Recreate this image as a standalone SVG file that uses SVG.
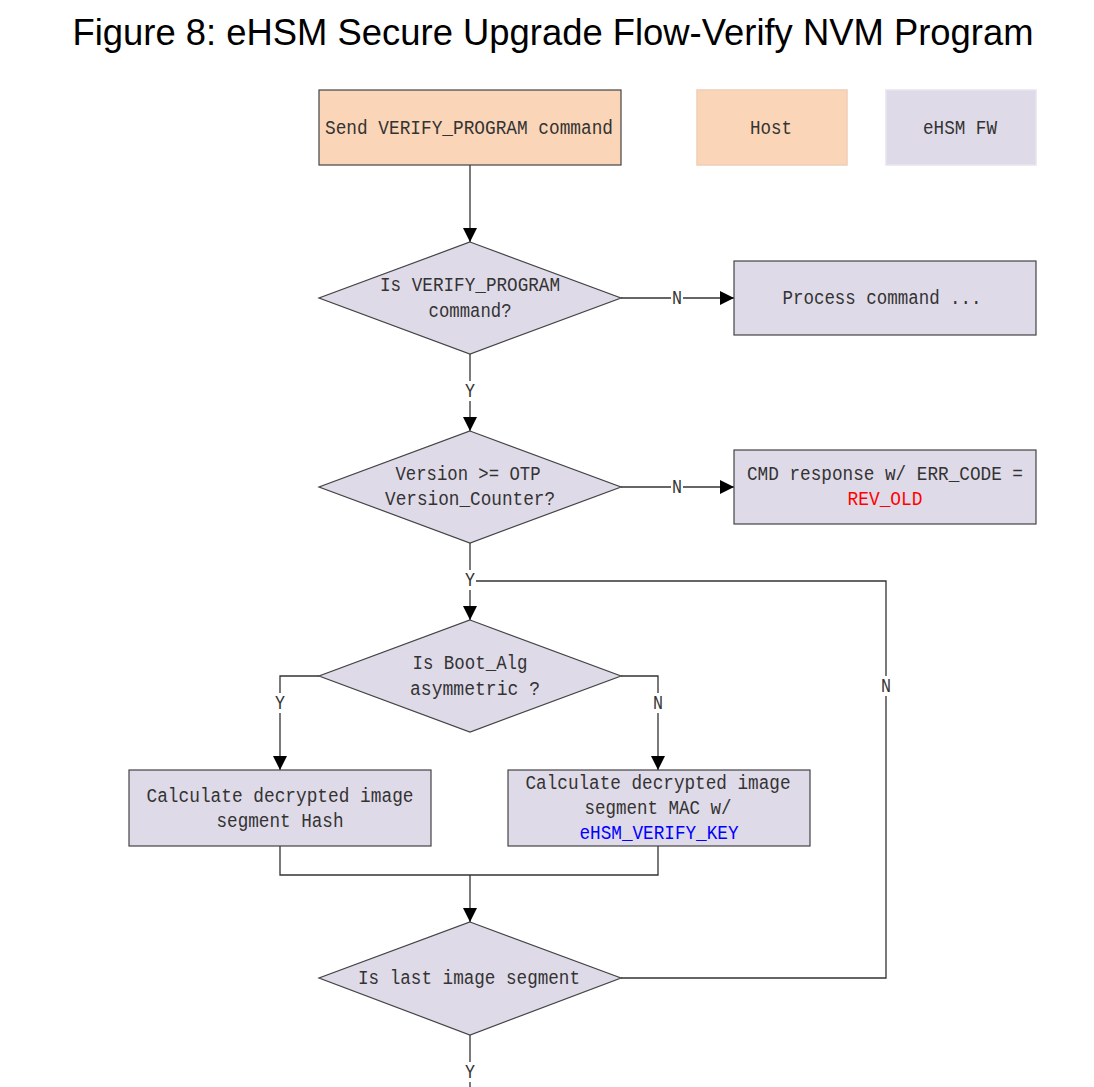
<svg xmlns="http://www.w3.org/2000/svg" width="1094" height="1087" viewBox="0 0 1094 1087">
<defs>
<style>
.title{font-family:"Liberation Sans",Arial,sans-serif;font-size:36px;fill:#000}
.t{font-family:"Liberation Mono","DejaVu Sans Mono",monospace;font-size:20px;fill:#333;text-anchor:middle;dominant-baseline:central}
.host{fill:#FBD5B7;stroke:#444;stroke-width:1.2}
.fw{fill:#DFDAE8;stroke:#444;stroke-width:1.2}
.legh{fill:#FBD5B7;stroke:#F0CDB8;stroke-width:1.5}
.legf{fill:#DFDAE8;stroke:#E8E4EE;stroke-width:1.5}
.c{fill:none;stroke:#333;stroke-width:1.3}
.lbl{fill:#fff}
</style>
<marker id="ah" viewBox="0 0 10 10" refX="10" refY="5" markerWidth="14" markerHeight="14" markerUnits="userSpaceOnUse" orient="auto">
<path d="M0,0 L10,5 L0,10 z" fill="#000"/>
</marker>
</defs>
<rect width="1094" height="1087" fill="#fff"/>
<text class="title" x="553" y="45" text-anchor="middle" textLength="961" lengthAdjust="spacingAndGlyphs">Figure 8: eHSM Secure Upgrade Flow-Verify NVM Program</text>

<g id="connectors">
<line class="c" x1="470" y1="165" x2="470" y2="242" marker-end="url(#ah)"/>
<line class="c" x1="621" y1="298" x2="734" y2="298" marker-end="url(#ah)"/>
<line class="c" x1="470" y1="354" x2="470" y2="431" marker-end="url(#ah)"/>
<line class="c" x1="621" y1="487" x2="734" y2="487" marker-end="url(#ah)"/>
<line class="c" x1="470" y1="543" x2="470" y2="620" marker-end="url(#ah)"/>
<polyline class="c" points="319,676 280,676 280,770" marker-end="url(#ah)"/>
<polyline class="c" points="621,676 658,676 658,770" marker-end="url(#ah)"/>
<polyline class="c" points="280,846 280,875 658,875 658,846"/>
<line class="c" x1="470" y1="875" x2="470" y2="922" marker-end="url(#ah)"/>
<polyline class="c" points="621,978 886,978 886,581 470,581"/>
<line class="c" x1="470" y1="1035" x2="470" y2="1087"/>
<g id="labels">
<rect class="lbl" x="671" y="288" width="12" height="20"/><text class="t" x="677" y="298" textLength="10" lengthAdjust="spacingAndGlyphs">N</text>
<rect class="lbl" x="671" y="477" width="12" height="20"/><text class="t" x="677" y="487" textLength="10" lengthAdjust="spacingAndGlyphs">N</text>
<rect class="lbl" x="464" y="381" width="12" height="20"/><text class="t" x="470" y="391" textLength="10" lengthAdjust="spacingAndGlyphs">Y</text>
<rect class="lbl" x="464" y="570" width="12" height="20"/><text class="t" x="470" y="580" textLength="10" lengthAdjust="spacingAndGlyphs">Y</text>
<rect class="lbl" x="274" y="693" width="12" height="20"/><text class="t" x="280" y="703" textLength="10" lengthAdjust="spacingAndGlyphs">Y</text>
<rect class="lbl" x="652" y="693" width="12" height="20"/><text class="t" x="658" y="703" textLength="10" lengthAdjust="spacingAndGlyphs">N</text>
<rect class="lbl" x="880" y="676" width="12" height="20"/><text class="t" x="886" y="686" textLength="10" lengthAdjust="spacingAndGlyphs">N</text>
<rect class="lbl" x="464" y="1062" width="12" height="20"/><text class="t" x="470" y="1072" textLength="10" lengthAdjust="spacingAndGlyphs">Y</text>
</g>
</g>

<g id="send_cmd">
<rect class="host" x="319" y="90" width="302" height="75"/>
<text class="t" x="469" y="128" textLength="288" lengthAdjust="spacingAndGlyphs">Send VERIFY_PROGRAM command</text>
</g>
<g id="legend_host">
<rect class="legh" x="697" y="90" width="150" height="75"/>
<text class="t" x="771" y="128" textLength="42" lengthAdjust="spacingAndGlyphs">Host</text>
</g>
<g id="legend_fw">
<rect class="legf" x="886" y="90" width="150" height="75"/>
<text class="t" x="960" y="128" textLength="74" lengthAdjust="spacingAndGlyphs">eHSM FW</text>
</g>
<g id="is_verify">
<polygon class="fw" points="470,242 621,298 470,354 319,298"/>
<text class="t" x="470" y="285" textLength="180" lengthAdjust="spacingAndGlyphs">Is VERIFY_PROGRAM</text>
<text class="t" x="470" y="311" textLength="83" lengthAdjust="spacingAndGlyphs">command?</text>
</g>
<g id="process_cmd">
<rect class="fw" x="734" y="261" width="302" height="74"/>
<text class="t" x="882" y="298" textLength="199" lengthAdjust="spacingAndGlyphs">Process command ...</text>
</g>
<g id="version_check">
<polygon class="fw" points="470,431 621,487 470,543 319,487"/>
<text class="t" x="468" y="474" textLength="145" lengthAdjust="spacingAndGlyphs">Version &gt;= OTP</text>
<text class="t" x="470" y="499" textLength="170" lengthAdjust="spacingAndGlyphs">Version_Counter?</text>
</g>
<g id="rev_old">
<rect class="fw" x="734" y="450" width="302" height="74"/>
<text class="t" x="885" y="474" textLength="276" lengthAdjust="spacingAndGlyphs">CMD response w/ ERR_CODE =</text>
<text class="t" x="885" y="499" style="fill:#FF0000" textLength="75" lengthAdjust="spacingAndGlyphs">REV_OLD</text>
</g>
<g id="boot_alg">
<polygon class="fw" points="470,620 621,676 470,732 319,676"/>
<text class="t" x="470" y="663" textLength="115" lengthAdjust="spacingAndGlyphs">Is Boot_Alg</text>
<text class="t" x="475" y="689" textLength="130" lengthAdjust="spacingAndGlyphs">asymmetric ?</text>
</g>
<g id="calc_hash">
<rect class="fw" x="129" y="770" width="302" height="76"/>
<text class="t" x="280" y="796" textLength="267" lengthAdjust="spacingAndGlyphs">Calculate decrypted image</text>
<text class="t" x="280" y="821" textLength="127" lengthAdjust="spacingAndGlyphs">segment Hash</text>
</g>
<g id="calc_mac">
<rect class="fw" x="508" y="770" width="302" height="76"/>
<text class="t" x="658" y="783" textLength="265" lengthAdjust="spacingAndGlyphs">Calculate decrypted image</text>
<text class="t" x="658" y="808" textLength="147" lengthAdjust="spacingAndGlyphs">segment MAC w/</text>
<text class="t" x="659" y="833" style="fill:#0000FF" textLength="159" lengthAdjust="spacingAndGlyphs">eHSM_VERIFY_KEY</text>
</g>
<g id="last_segment">
<polygon class="fw" points="470,922 621,978 470,1035 319,978"/>
<text class="t" x="469" y="978" textLength="222" lengthAdjust="spacingAndGlyphs">Is last image segment</text>
</g>
</svg>
